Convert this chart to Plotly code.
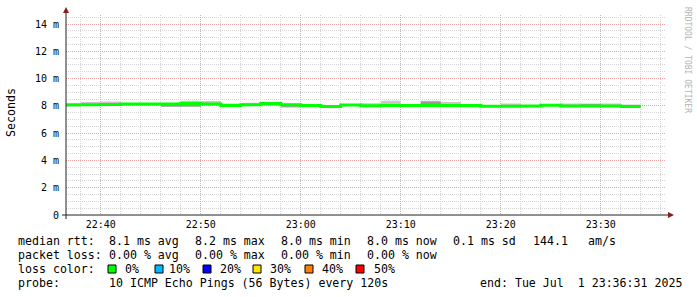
import plotly.graph_objects as go

# ---------------- data ----------------
day = "2025-07-01 "
step_start = ["22:36:31", "22:38", "22:40", "22:42", "22:44", "22:46", "22:48", "22:50",
              "22:52", "22:54", "22:56", "22:58", "23:00", "23:02", "23:04", "23:06",
              "23:08", "23:10", "23:12", "23:14", "23:16", "23:18", "23:20", "23:22",
              "23:24", "23:26", "23:28", "23:30", "23:32"]
data_end = "23:34"

median_ms = [8.09, 8.09, 8.11, 8.14, 8.14, 8.14, 8.17, 8.14, 8.03, 8.09, 8.18, 8.09,
             8.02, 7.96, 8.06, 8.01, 8.02, 8.02, 8.02, 8.02, 8.02, 7.98, 7.97, 7.99,
             8.04, 7.99, 8.00, 7.99, 7.96]
smoke_lo = [7.94, 8.05, 8.07, 8.10, 8.10, 7.92, 7.92, 8.09, 7.99, 8.05, 8.14, 7.87,
            7.97, 7.91, 8.01, 7.97, 7.98, 7.98, 7.98, 7.98, 7.90, 7.94, 7.93, 7.94,
            8.00, 7.94, 7.96, 7.94, 7.92]
smoke_hi = [8.14, 8.28, 8.32, 8.20, 8.20, 8.18, 8.38, 8.36, 8.17, 8.23, 8.26, 8.15,
            8.08, 8.01, 8.12, 8.20, 8.38, 8.08, 8.38, 8.28, 8.08, 8.03, 8.18, 8.05,
            8.09, 8.18, 8.18, 8.18, 8.10]
dark_lo = [8.09, 8.09, 8.11, 8.14, 8.14, 7.95, 7.95, 8.14, 8.03, 8.09, 8.18, 7.94,
           8.02, 7.96, 8.06, 8.01, 8.02, 8.02, 8.02, 8.02, 8.02, 7.98, 7.97, 7.99,
           8.04, 7.99, 8.00, 7.99, 7.96]
dark_hi = [8.09, 8.09, 8.11, 8.14, 8.14, 8.14, 8.17, 8.14, 8.03, 8.09, 8.18, 8.09,
           8.02, 7.96, 8.06, 8.01, 8.02, 8.02, 8.32, 8.02, 8.02, 7.98, 7.97, 7.99,
           8.04, 7.99, 8.12, 7.99, 7.96]

y_tick_vals = [0, 2, 4, 6, 8, 10, 12, 14]
y_tick_text = ["0", "2 m", "4 m", "6 m", "8 m", "10 m", "12 m", "14 m"]

range_start = day + "22:36:31"
range_end = day + "23:36:31"

legend_rows = [
    [("median rtt:", 16), ("8.1 ms avg", 107), ("8.2 ms max", 193), ("8.0 ms min", 279),
     ("8.0 ms now", 365), ("0.1 ms sd", 451), ("144.1", 531), ("am/s", 586)],
    [("packet loss:", 16), ("0.00 % avg", 107), ("0.00 % max", 193), ("0.00 % min", 279),
     ("0.00 % now", 365)],
    [("loss color:", 16), ("0%", 123), ("10%", 167), ("20%", 218), ("30%", 268),
     ("40%", 320), ("50%", 372)],
    [("probe:", 16), ("10 ICMP Echo Pings (56 Bytes) every 120s", 107),
     ("end: Tue Jul  1 23:36:31 2025", 478)],
]
loss_colors = ["#00ff00", "#00b8ff", "#0000ff", "#ffe600", "#ff8000", "#ff0000"]
loss_square_x = [108, 155, 203, 253, 305, 356]

# ---------------- geometry helpers ----------------
W, H = 697, 297
PL, PR, PT, PB = 66, 666, 15, 215


def px(x):
    return (x - PL) / (PR - PL)


def py(y):
    return (PB - y) / (PB - PT)


xs = [day + t for t in step_start] + [day + data_end]


def ext(a):
    return list(a) + [a[-1]]


fig = go.Figure()
fig.add_trace(go.Scatter(x=xs, y=ext(smoke_lo), mode="lines", line=dict(width=0, shape="hv"),
                         hoverinfo="skip", showlegend=False))
fig.add_trace(go.Scatter(x=xs, y=ext(smoke_hi), mode="lines", line=dict(width=0, shape="hv"),
                         fill="tonexty", fillcolor="#c8c8c8", hoverinfo="skip", showlegend=False))
fig.add_trace(go.Scatter(x=xs, y=ext(dark_lo), mode="lines", line=dict(width=0, shape="hv"),
                         hoverinfo="skip", showlegend=False))
fig.add_trace(go.Scatter(x=xs, y=ext(dark_hi), mode="lines", line=dict(width=0, shape="hv"),
                         fill="tonexty", fillcolor="#999999", hoverinfo="skip", showlegend=False))
fig.add_trace(go.Scatter(x=xs, y=ext(median_ms), mode="lines",
                         line=dict(width=3, shape="hv", color="#00ff00"),
                         showlegend=False))

mono = "DejaVu Sans Mono"
fig.update_layout(
    width=W, height=H,
    margin=dict(l=PL, r=W - PR, t=PT, b=H - PB),
    paper_bgcolor="white", plot_bgcolor="white",
    showlegend=False,
    xaxis=dict(
        type="date", range=[range_start, range_end],
        tickformat="%H:%M", dtick=600000, tick0=day + "22:40:00",
        showgrid=True, gridcolor="#eba3a3", griddash="1px,1px", gridwidth=1,
        minor=dict(dtick=120000, tick0=day + "22:40:00", showgrid=True,
                   gridcolor="#d4d4d4", griddash="1px,1px", gridwidth=1),
        showline=False, zeroline=False, ticks="",
        tickfont=dict(family=mono, size=10, color="#000"),
        ticklabelstandoff=2,
    ),
    yaxis=dict(
        range=[0, 200 / 13.64],
        tickvals=y_tick_vals, ticktext=y_tick_text,
        showgrid=True, gridcolor="#eba3a3", griddash="1px,1px", gridwidth=1,
        minor=dict(dtick=0.5, showgrid=True, gridcolor="#d4d4d4",
                   griddash="1px,1px", gridwidth=1),
        showline=False, zeroline=False, ticks="",
        tickfont=dict(family=mono, size=10, color="#000"),
        ticklabelstandoff=6,
    ),
)

shapes = []
# axes
shapes.append(dict(type="line", xref="paper", yref="paper", x0=px(62), x1=px(670),
                   y0=0, y1=0, line=dict(color="#222222", width=1)))
shapes.append(dict(type="line", xref="paper", yref="paper", x0=0, x1=0,
                   y0=py(219), y1=py(12), line=dict(color="#222222", width=1)))
# arrows
ax_tip, ax_base = px(674), px(668)
shapes.append(dict(type="path", xref="paper", yref="paper",
                   path=f"M {ax_base} {py(212)} L {ax_tip} {py(215)} L {ax_base} {py(218)} Z",
                   fillcolor="#8b1a1a", line=dict(color="#8b1a1a", width=0)))
shapes.append(dict(type="path", xref="paper", yref="paper",
                   path=f"M {px(63)} {py(13)} L {px(66)} {py(7)} L {px(69)} {py(13)} Z",
                   fillcolor="#8b1a1a", line=dict(color="#8b1a1a", width=0)))
# loss colour squares
for col, sx in zip(loss_colors, loss_square_x):
    shapes.append(dict(type="rect", xref="paper", yref="paper",
                       x0=px(sx), x1=px(sx + 8), y0=py(273), y1=py(265),
                       fillcolor=col, line=dict(color="#000000", width=1)))
fig.update_layout(shapes=shapes)

ann = []
row_y = [241, 255, 269, 283]
for row, yy in zip(legend_rows, row_y):
    for text, xx in row:
        ann.append(dict(text=text.replace(" ", "&nbsp;"), xref="paper", yref="paper",
                        x=px(xx), y=py(yy), xanchor="left", yanchor="middle",
                        showarrow=False, font=dict(family=mono, size=11.6, color="#000")))
ann.append(dict(text="Seconds", xref="paper", yref="paper", x=px(11), y=py(113),
                xanchor="center", yanchor="middle", textangle=-90, showarrow=False,
                font=dict(family=mono, size=11.6, color="#000")))
ann.append(dict(text="RRDTOOL / TOBI OETIKER", xref="paper", yref="paper", x=px(687),
                y=py(60), xanchor="center", yanchor="middle", textangle=90, showarrow=False,
                font=dict(family=mono, size=8, color="#b4b4b4")))
fig.update_layout(annotations=ann)

fig.write_html("out.html")
